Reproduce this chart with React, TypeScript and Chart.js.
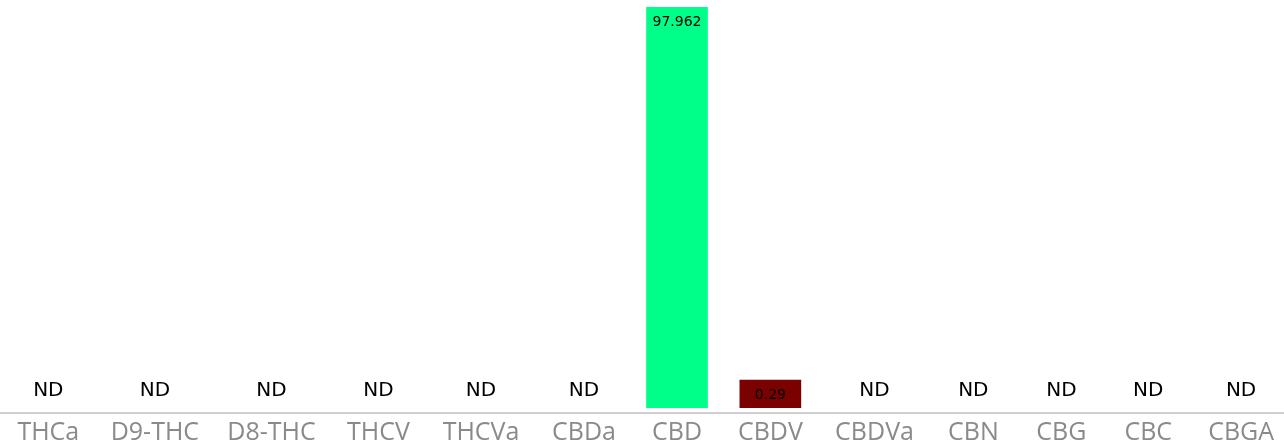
import React, { useEffect, useRef } from 'react';
import { Chart, registerables, CategoryScale } from 'chart.js';

Chart.register(...registerables);

// ---- data ----
const categories: string[] = ['THCa', 'D9-THC', 'D8-THC', 'THCV', 'THCVa', 'CBDa', 'CBD', 'CBDV', 'CBDVa', 'CBN', 'CBG', 'CBC', 'CBGA'];
const values: (number | null)[] = [null, null, null, null, null, null, 97.962, 0.29, null, null, null, null, null];
const barColors: string[] = ['#cccccc', '#cccccc', '#cccccc', '#cccccc', '#cccccc', '#cccccc', '#00ff88', '#7b0000', '#cccccc', '#cccccc', '#cccccc', '#cccccc', '#cccccc'];
const missingLabel = 'ND';

const TICK_FAMILY = '"Open Sans", "Noto Sans", sans-serif';
const TICK_SIZE = 25;
const LABEL_WEIGHT = 0.75; // share of label width that drives the cell width
const RIGHT_OVERFLOW = 10; // cells run slightly past the right edge

// Category scale whose cells grow with their label width (auto-sized cells)
class WeightedCategoryScale extends CategoryScale {
  static id = 'weightedCategory';
  static defaults = (CategoryScale as any).defaults;
  _wcCache: { key: string; centers: number[] } | null = null;

  _wcCenters(): number[] {
    const labels: string[] = (this as any).getLabels();
    const key = `${this.left}|${this.width}|${labels.length}`;
    if (this._wcCache && this._wcCache.key === key) return this._wcCache.centers;
    const ctx: CanvasRenderingContext2D = (this as any).ctx;
    ctx.save();
    ctx.font = `${TICK_SIZE}px ${TICK_FAMILY}`;
    const widths = labels.map((l) => ctx.measureText(String(l)).width * LABEL_WEIGHT);
    ctx.restore();
    const total = widths.reduce((a, b) => a + b, 0);
    const span = this.width + RIGHT_OVERFLOW;
    const pad = Math.max(0, (span - total) / Math.max(1, labels.length));
    const centers: number[] = [];
    let x = this.left;
    widths.forEach((w) => {
      const cell = w + pad;
      centers.push(x + cell / 2);
      x += cell;
    });
    this._wcCache = { key, centers };
    return centers;
  }

  getPixelForValue(value: any): number {
    if (typeof value !== 'number') value = (this as any).parse(value);
    if (value === null || value === undefined || isNaN(value)) return NaN;
    const centers = this._wcCenters();
    const i = Math.round(value);
    if (i >= 0 && i < centers.length) return centers[i];
    return super.getPixelForValue(value);
  }
}

Chart.register(WeightedCategoryScale as any);

const labelPlugin = {
  id: 'valueLabels',
  afterDatasetsDraw(chart: any) {
    const ctx: CanvasRenderingContext2D = chart.ctx;
    const meta = chart.getDatasetMeta(0);
    const xs = chart.scales.x;
    const ys = chart.scales.y;
    ctx.save();
    ctx.textAlign = 'center';
    ctx.textBaseline = 'middle';
    ctx.fillStyle = '#000000';
    values.forEach((v, i) => {
      if (v === null) {
        ctx.font = '20px "DejaVu Sans", sans-serif';
        ctx.fillText(missingLabel, xs.getPixelForValue(i), ys.getPixelForValue(0) - 17.5);
      } else {
        const bar = meta.data[i];
        ctx.font = '14px "DejaVu Sans", sans-serif';
        ctx.fillStyle = '#000000';
        ctx.fillText(String(v), bar.x, bar.y + 15);
      }
    });
    ctx.restore();
  },
  afterDraw(chart: any) {
    const ctx: CanvasRenderingContext2D = chart.ctx;
    const y = chart.chartArea.bottom + 5;
    ctx.save();
    ctx.strokeStyle = '#d0d0d0';
    ctx.lineWidth = 2;
    ctx.beginPath();
    ctx.moveTo(0, y);
    ctx.lineTo(chart.width, y);
    ctx.stroke();
    ctx.restore();
  },
};

export default function App() {
  const canvasRef = useRef<HTMLCanvasElement | null>(null);

  useEffect(() => {
    if (!canvasRef.current) return;
    const maxVal = Math.max(...(values.filter((v) => v !== null) as number[]));
    const chart = new Chart(canvasRef.current, {
      type: 'bar',
      data: {
        labels: categories,
        datasets: [
          {
            data: values as any,
            backgroundColor: barColors,
            borderWidth: 0,
            barThickness: 61,
            minBarLength: 28,
          },
        ],
      },
      plugins: [labelPlugin],
      options: {
        animation: false,
        responsive: false,
        events: [],
        layout: { padding: { top: 7, left: 0, right: 0, bottom: -14 } },
        plugins: { legend: { display: false }, tooltip: { enabled: false } },
        scales: {
          x: {
            type: 'weightedCategory' as any,
            offset: true,
            grid: { display: false, drawTicks: false },
            border: { display: false },
            ticks: {
              autoSkip: false,
              maxRotation: 0,
              minRotation: 0,
              padding: 10,
              color: '#8a8a8a',
              font: { family: TICK_FAMILY, size: TICK_SIZE, lineHeight: 1.2 },
            },
          },
          y: {
            display: false,
            min: 0,
            max: maxVal,
          },
        },
      },
    });
    return () => chart.destroy();
  }, []);

  return (
    <div style={{ position: 'absolute', left: 0, top: 0, width: 1284, height: 444 }}>
      <canvas ref={canvasRef} width={1284} height={444} style={{ display: 'block' }} />
    </div>
  );
}
